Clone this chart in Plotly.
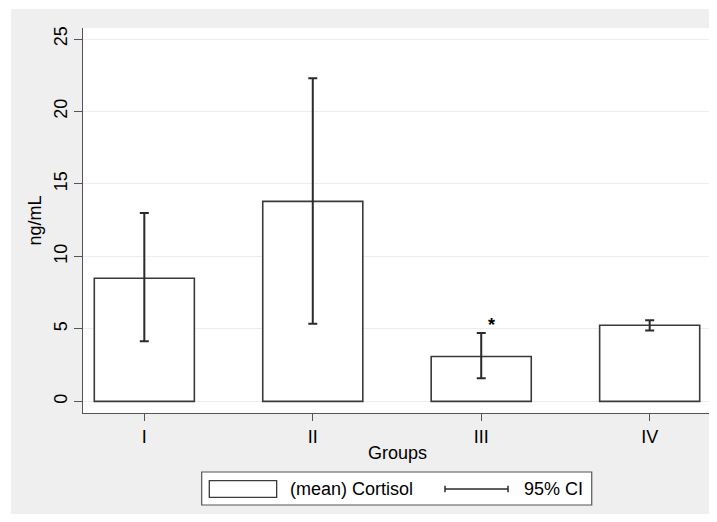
import plotly.graph_objects as go

groups = ["I", "II", "III", "IV"]
mean_cortisol = [8.5, 13.8, 3.1, 5.25]
ci_low = [4.15, 5.35, 1.6, 4.9]
ci_high = [13.0, 22.3, 4.72, 5.6]
y_ticks = [0, 5, 10, 15, 20, 25]

FONT = "Liberation Sans, Arial, Helvetica, sans-serif"
DARK = "#2b2b2b"
GRAY_BG = "#EFEFEF"
FS = 18

err_plus = [h - m for h, m in zip(ci_high, mean_cortisol)]
err_minus = [m - l for m, l in zip(mean_cortisol, ci_low)]

fig = go.Figure()
fig.add_trace(go.Bar(
    x=groups, y=mean_cortisol, width=0.594,
    marker=dict(color="white", line=dict(color="#3a3a3a", width=1.6)),
    error_y=dict(type="data", symmetric=False, array=err_plus, arrayminus=err_minus,
                 color=DARK, thickness=2, width=4.5),
    showlegend=False, name="(mean) Cortisol",
))

# significance marker
fig.add_annotation(x="III", y=5.3, text="<b>*</b>", showarrow=False, xshift=10,
                   font=dict(size=FS, color="black", family=FONT))

LY = -0.1974
shapes = [
    # white strips at top/left of the image
    dict(type="rect", xref="paper", yref="paper", x0=-0.2, x1=1.05, y0=1.0494, y1=1.1,
         fillcolor="white", line=dict(width=0), layer="above"),
    dict(type="rect", xref="paper", yref="paper", x0=-0.2, x1=-0.1145, y0=-0.3, y1=1.1,
         fillcolor="white", line=dict(width=0), layer="above"),
    # legend frame
    dict(type="rect", xref="paper", yref="paper", x0=0.1887, x1=0.8088, y0=-0.239, y1=-0.1532,
         fillcolor="white", line=dict(color="#555555", width=1.2)),
    # bar key
    dict(type="rect", xref="paper", yref="paper", x0=0.2008, x1=0.3079, y0=-0.219, y1=-0.1758,
         fillcolor="white", line=dict(color="#3a3a3a", width=1.3)),
    # CI key
    dict(type="line", xref="paper", yref="paper", x0=0.5755, x1=0.6757, y0=LY, y1=LY,
         line=dict(color=DARK, width=1.5)),
    dict(type="line", xref="paper", yref="paper", x0=0.5755, x1=0.5755, y0=LY - 0.0085, y1=LY + 0.0085,
         line=dict(color=DARK, width=1.5)),
    dict(type="line", xref="paper", yref="paper", x0=0.6757, x1=0.6757, y0=LY - 0.0085, y1=LY + 0.0085,
         line=dict(color=DARK, width=1.5)),
]
fig.add_annotation(xref="paper", yref="paper", x=0.3264, y=LY, text="(mean) Cortisol",
                   xanchor="left", yanchor="middle", showarrow=False,
                   font=dict(size=FS, color="black", family=FONT))
fig.add_annotation(xref="paper", yref="paper", x=0.6975, y=LY, text="95% CI",
                   xanchor="left", yanchor="middle", showarrow=False,
                   font=dict(size=FS, color="black", family=FONT))

fig.update_layout(
    width=709, height=506,
    margin=dict(l=75, r=5, t=20, b=101),
    paper_bgcolor=GRAY_BG, plot_bgcolor="white",
    font=dict(family=FONT, size=FS, color="black"),
    shapes=shapes,
    xaxis=dict(
        range=[-0.364, 3.37], showgrid=False, zeroline=False,
        showline=True, linecolor="#555555", linewidth=1.3,
        ticks="outside", ticklen=7, tickwidth=1.3, tickcolor="#555555",
        title=dict(text="Groups", standoff=0, font=dict(size=FS)),
        tickfont=dict(size=FS), automargin=False,
    ),
    yaxis=dict(
        range=[-0.8, 25.76], tickvals=y_ticks, showgrid=True, gridcolor="#EDEDED", gridwidth=1,
        zeroline=False, showline=True, linecolor="#555555", linewidth=1.3,
        ticks="outside", ticklen=8, tickwidth=1.3, tickcolor="#555555",
        tickangle=-90, tickfont=dict(size=FS), automargin=False,
        title=dict(text="ng/mL", standoff=4, font=dict(size=FS)),
    ),
)

fig.write_html("out.html")
